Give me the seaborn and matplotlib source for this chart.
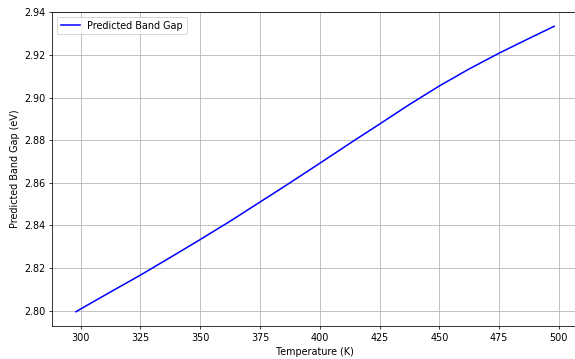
import matplotlib
matplotlib.use("Agg")
import matplotlib.pyplot as plt
import seaborn as sns
import pandas as pd

# Predicted band gap versus temperature
temperature_k = [298, 300, 312.5, 325, 337.5, 350, 362.5, 375, 387.5, 400,
                 412.5, 425, 437.5, 450, 462.5, 475, 487.5, 498]
band_gap_ev = [2.7995, 2.8008, 2.8088, 2.8167, 2.8250, 2.8334, 2.8420, 2.8510,
               2.8600, 2.8692, 2.8785, 2.8876, 2.8968, 2.9055, 2.9135, 2.9209,
               2.9278, 2.9335]
series_label = "Predicted Band Gap"
x_label = "Temperature (K)"
y_label = "Predicted Band Gap (eV)"

df = pd.DataFrame({"T": temperature_k, "Eg": band_gap_ev})

# Render at a reduced dpi so that default font and line sizes scale together
DPI = 69
fig = plt.figure(figsize=(575 / DPI, 359 / DPI), dpi=DPI)
ax = fig.add_axes([0.0904, 0.0919, 0.915, 0.8747])

sns.lineplot(data=df, x="T", y="Eg", color="blue", linewidth=1.6,
             label=series_label, ax=ax)

ax.set_xlim(288, 508)
ax.set_ylim(2.7928, 2.9402)
ax.set_xticks([300, 325, 350, 375, 400, 425, 450, 475, 500])
ax.set_yticks([2.80, 2.82, 2.84, 2.86, 2.88, 2.90, 2.92, 2.94])
ax.yaxis.set_major_formatter(matplotlib.ticker.FormatStrFormatter("%.2f"))
ax.set_xlabel(x_label)
ax.set_ylabel(y_label)
ax.grid(True, color="#b0b0b0", linewidth=0.8)
ax.legend(loc="upper left")

fig.savefig("out.png", dpi=DPI)
